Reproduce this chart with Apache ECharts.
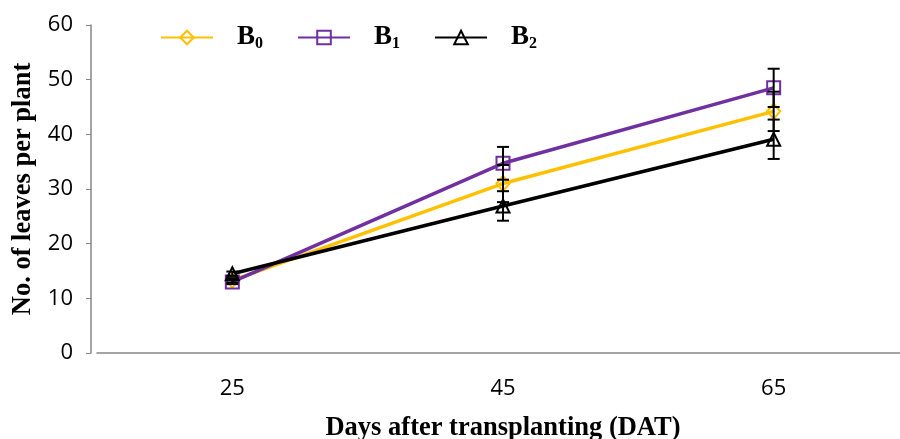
<!DOCTYPE html>
<html>
<head>
<meta charset="utf-8">
<script src="https://cdn.jsdelivr.net/npm/echarts@6/dist/echarts.min.js"></script>
<style>
  html, body { margin: 0; padding: 0; background: #fff; }
  #chart { width: 900px; height: 439px; }
</style>
</head>
<body>
<div id="chart"></div>
<script>
// days after transplanting
const days = ['25', '45', '65'];

// mean number of leaves per plant
const b0 = [13.3, 31.0, 44.2];
const b1 = [13.0, 34.7, 48.5];
const b2 = [14.5, 26.9, 39.1];

// error (+/-)
const b0Err = [0.4, 3.4, 3.6];
const b1Err = [0.4, 3.0, 3.5];
const b2Err = [0.4, 2.7, 3.6];

const names = ['B0', 'B1', 'B2'];
const colors = ['#FFC000', '#7030A0', '#000000'];
const symbols = ['diamond', 'rect', 'triangle'];

let chartDom = document.getElementById('chart');
let chart = echarts.init(chartDom);

function lineSeries(i, data) {
    return {
        name: names[i],
        type: 'line',
        data: data,
        symbol: symbols[i],
        symbolSize: i == 0 ? [13, 15] : 13,
        lineStyle: { color: colors[i], width: 3.5 },
        itemStyle: { color: 'none', borderColor: colors[i], borderWidth: 2 },
        z: 2
    };
}

function errSeries(vals, errs) {
    return {
        type: 'custom',
        silent: true,
        z: 3,
        data: vals.map((v, i) => [i, v, errs[i]]),
        renderItem: function (params, api) {
            let x = api.value(0);
            let v = api.value(1);
            let e = api.value(2);
            let top = api.coord([x, v + e]);
            let bot = api.coord([x, v - e]);
            let cw = 6;
            let st = { stroke: '#000', lineWidth: 2 };
            return {
                type: 'group',
                children: [
                    { type: 'line', shape: { x1: top[0], y1: top[1], x2: bot[0], y2: bot[1] }, style: st },
                    { type: 'line', shape: { x1: top[0] - cw, y1: top[1], x2: top[0] + cw, y2: top[1] }, style: st },
                    { type: 'line', shape: { x1: bot[0] - cw, y1: bot[1], x2: bot[0] + cw, y2: bot[1] }, style: st }
                ]
            };
        }
    };
}

chart.setOption({
    animation: false,
    grid: { left: 97, top: 25, width: 812, height: 328, outerBoundsMode: 'none' },
    legend: {
        left: 160,
        top: 24,
        padding: 0,
        itemWidth: 52,
        itemHeight: 17,
        itemGap: 34,
        data: names,
        formatter: function (n) {
            return '{b|B}{s|' + n.slice(1) + '}';
        },
        textStyle: {
            rich: {
                b: { fontFamily: 'Liberation Serif', fontWeight: 'bold', fontSize: 27, color: '#000', padding: [0, 0, 0, 19] },
                s: { fontFamily: 'Liberation Serif', fontWeight: 'bold', fontSize: 16, color: '#000', padding: [12, 0, 0, 0] }
            }
        }
    },
    xAxis: {
        type: 'category',
        data: days,
        boundaryGap: true,
        name: 'Days after transplanting (DAT)',
        nameLocation: 'middle',
        nameGap: 62,
        nameTextStyle: { fontFamily: 'Liberation Serif', fontWeight: 'bold', fontSize: 26.5, color: '#000' },
        axisLine: { lineStyle: { color: '#868686', width: 1.5 } },
        axisTick: { alignWithLabel: true, length: 6, lineStyle: { color: '#868686' } },
        axisLabel: { margin: 25, fontFamily: 'Open Sans', fontSize: 22, color: '#000' },
        splitLine: { show: false }
    },
    yAxis: {
        type: 'value',
        min: 0,
        max: 60,
        interval: 10,
        offset: 6,
        name: 'No. of leaves per plant',
        nameLocation: 'middle',
        nameGap: 54,
        nameTextStyle: { fontFamily: 'Liberation Serif', fontWeight: 'bold', fontSize: 26.5, color: '#000' },
        axisLine: { show: true, lineStyle: { color: '#868686', width: 1.5 } },
        axisTick: { show: true, length: 5, lineStyle: { color: '#868686' } },
        axisLabel: { margin: 18, fontFamily: 'Open Sans', fontSize: 22, color: '#000' },
        splitLine: { show: false }
    },
    series: [
        lineSeries(0, b0),
        lineSeries(1, b1),
        lineSeries(2, b2),
        errSeries(b0, b0Err),
        errSeries(b1, b1Err),
        errSeries(b2, b2Err)
    ]
});
</script>
</body>
</html>
